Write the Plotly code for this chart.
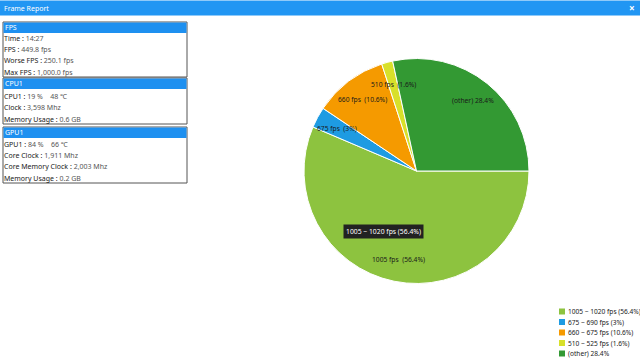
import numpy as np
import plotly.graph_objects as go

W, H = 640, 360

# ---- data ----
legend_labels = ["1005 ~ 1020 fps (56.4%)", "675 ~ 690 fps (3%)", "660 ~ 675 fps (10.6%)",
                 "510 ~ 525 fps (1.6%)", "(other) 28.4%"]
slice_text = ["1005 fps  (56.4%)", "675 fps  (3%)", "660 fps  (10.6%)", "510 fps  (1.6%)", "(other) 28.4%"]
values = [56.4, 3.0, 10.6, 1.6, 28.4]
colors = ["#8dc33f", "#1e9be2", "#f59a00", "#d8e02a", "#339933"]

panel_titles = ["FPS", "CPU1", "GPU1"]
panel_rows = [
    [("Time", "14:27"), ("FPS", "449.8 fps"), ("Worse FPS", "250.1 fps"), ("Max FPS", "1,000.0 fps")],
    [("CPU1", "19 %    48 \u2103"), ("Clock", "3,598 Mhz"), ("Memory Usage", "0.6 GB")],
    [("GPU1", "84 %    66 \u2103"), ("Core Clock", "1,911 Mhz"), ("Core Memory Clock", "2,003 Mhz"),
     ("Memory Usage", "0.2 GB")],
]
tooltip_text = legend_labels[0]

FONT = "Noto Sans"
BLUE = "#2196f3"


def px(x):
    return x / W


def py(y):
    return 1 - y / H


# pie geometry (pixels)
cx, cy, r = 416.5, 171, 112.5

fig = go.Figure()
fig.add_trace(go.Pie(
    labels=legend_labels, values=values, sort=False, direction="clockwise", rotation=90,
    marker=dict(colors=colors, line=dict(color="white", width=1)),
    textinfo="none", hoverinfo="skip", showlegend=False,
    domain=dict(x=[px(cx - r), px(cx + r)], y=[py(cy + r), py(cy - r)]),
))

shapes = []
annotations = []

# title bar
shapes.append(dict(type="rect", xref="paper", yref="paper", x0=0, x1=1, y0=py(15.5), y1=py(0.5),
                   fillcolor=BLUE, line=dict(width=0), layer="below"))
annotations.append(dict(text="Frame Report", x=px(2), y=py(8), xref="paper", yref="paper",
                        xanchor="left", yanchor="middle", showarrow=False,
                        font=dict(family=FONT, size=7, color="white")))
annotations.append(dict(text="<b>\u00d7</b>", x=px(632), y=py(8), xref="paper", yref="paper",
                        xanchor="center", yanchor="middle", showarrow=False,
                        font=dict(family=FONT, size=10, color="white")))

# info panels (layout box positions in pixels)
panel_tops = [22, 78, 127]
panel_bottoms = [77, 124, 183]
row_h = 11.3
for title, rows, top, bottom in zip(panel_titles, panel_rows, panel_tops, panel_bottoms):
    shapes.append(dict(type="rect", xref="paper", yref="paper", x0=px(3), x1=px(187),
                       y0=py(bottom), y1=py(top), fillcolor="white",
                       line=dict(color="#555555", width=1)))
    shapes.append(dict(type="rect", xref="paper", yref="paper", x0=px(3.5), x1=px(186.5),
                       y0=py(top + 11), y1=py(top + 0.5), fillcolor="#1e90f0", line=dict(width=0)))
    annotations.append(dict(text=title, x=px(3), y=py(top + 5.5), xref="paper", yref="paper",
                            xanchor="left", yanchor="middle", showarrow=False,
                            font=dict(family=FONT, size=7, color="white")))
    n = len(rows)
    for i, (k, v) in enumerate(rows):
        yc = bottom - 4.8 - (n - 1 - i) * row_h
        annotations.append(dict(text=f"{k} : <span style='color:#555555'>{v}</span>",
                                x=px(2), y=py(yc), xref="paper", yref="paper",
                                xanchor="left", yanchor="middle", showarrow=False,
                                font=dict(family=FONT, size=7, color="#1a1a1a")))

# slice labels (computed from values)
fr = np.array(values) / np.sum(values)
cum = np.concatenate([[0], np.cumsum(fr)])
for i, t in enumerate(slice_text):
    mid = -np.deg2rad((cum[i] + fr[i] / 2) * 360)
    lx = cx + 0.8 * r * np.cos(mid)
    ly = cy - 0.8 * r * np.sin(mid)
    annotations.append(dict(text=t, x=px(lx), y=py(ly), xref="paper", yref="paper",
                            xanchor="center", yanchor="middle", showarrow=False,
                            font=dict(family=FONT, size=6.7, color="#1a1a1a")))

# hover tooltip
annotations.append(dict(text=tooltip_text, x=px(383), y=py(231.5), xref="paper", yref="paper",
                        xanchor="center", yanchor="middle", showarrow=False, bgcolor="#222222",
                        borderpad=2, font=dict(family=FONT, size=6.8, color="white")))

# legend (built from data)
for i, (lab, col) in enumerate(zip(legend_labels, colors)):
    yc = 311.5 + i * 10.5
    shapes.append(dict(type="rect", xref="paper", yref="paper", x0=px(559), x1=px(565),
                       y0=py(yc + 3), y1=py(yc - 3), fillcolor=col, line=dict(width=0)))
    annotations.append(dict(text=lab, x=px(566), y=py(yc), xref="paper", yref="paper",
                            xanchor="left", yanchor="middle", showarrow=False,
                            font=dict(family=FONT, size=6.6, color="#1a1a1a")))

fig.update_layout(width=W, height=H, margin=dict(l=0, r=0, t=0, b=0),
                  paper_bgcolor="white", plot_bgcolor="white",
                  shapes=shapes, annotations=annotations, showlegend=False)

fig.write_html("out.html", config={"displayModeBar": False},
               post_script="document.body.style.margin='0';document.body.style.overflow='hidden';")
